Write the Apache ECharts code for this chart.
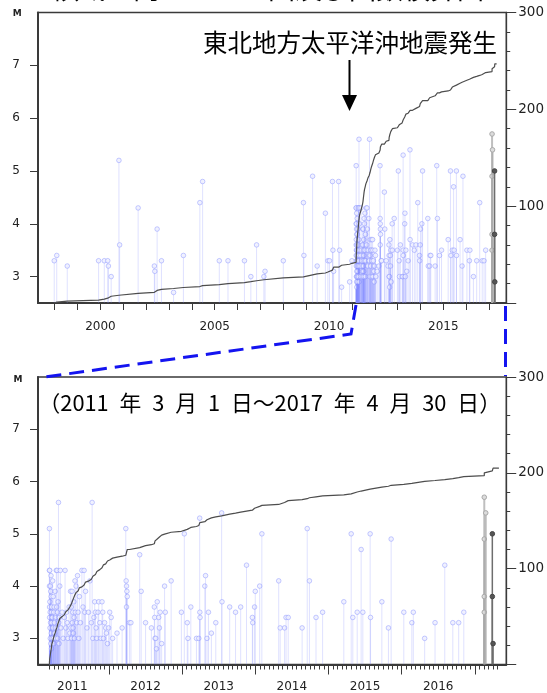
<!DOCTYPE html>
<html><head><meta charset="utf-8">
<script src="https://cdn.jsdelivr.net/npm/echarts@6/dist/echarts.min.js"></script>
<style>html,body{margin:0;padding:0;background:#fff}#c{width:547px;height:693px}</style>
</head><body><div id="c"></div>
<script>
// ---- data: [decimal year, magnitude] ----
const ev1998_2010 = [[1997.98,3.3],[1998.09,3.4],[1998.55,3.2],[1999.92,3.3],[2000.17,3.3],[2000.32,3.3],[2000.35,3.2],[2000.47,3.0],[2000.81,5.2],[2000.84,3.6],[2001.65,4.3],[2002.36,3.2],[2002.38,3.1],[2002.48,3.9],[2002.67,3.3],[2003.2,2.7],[2003.63,3.4],[2004.35,4.4],[2004.47,4.8],[2005.2,3.3],[2005.58,3.3],[2006.3,3.3],[2006.58,3.0],[2006.83,3.6],[2007.15,3.0],[2007.2,3.1],[2008.0,3.3],[2008.88,4.4],[2008.9,3.4],[2009.28,4.9],[2009.48,3.2],[2009.84,4.2],[2009.95,3.3],[2010.02,3.3],[2010.15,4.8],[2010.17,3.5],[2010.2,3.1],[2010.42,4.8],[2010.46,3.5],[2010.55,2.8],[2010.9,2.9],[2011.0,3.3]];
const ev2011 = [[2011.186,5.1],[2011.186,4.3],[2011.187,4.0],[2011.188,3.6],[2011.189,3.4],[2011.19,4.3],[2011.192,3.7],[2011.194,3.2],[2011.196,3.5],[2011.198,3.0],[2011.2,4.0],[2011.202,3.3],[2011.204,3.9],[2011.206,2.9],[2011.208,4.2],[2011.21,3.8],[2011.212,3.1],[2011.214,2.8],[2011.215,3.5],[2011.216,3.6],[2011.218,3.3],[2011.22,3.0],
[2011.225,3.4],[2011.23,4.1],[2011.235,3.2],[2011.238,3.8],[2011.24,3.0],[2011.245,3.5],[2011.248,2.9],[2011.25,3.6],[2011.255,3.3],[2011.26,3.1],[2011.265,3.9],[2011.268,3.2],
[2011.272,3.0],[2011.276,3.4],[2011.28,4.3],[2011.285,3.6],[2011.29,4.3],[2011.293,3.2],[2011.297,3.5],[2011.3,3.0],[2011.305,3.7],[2011.31,5.6],[2011.314,3.3],[2011.318,2.9],[2011.323,3.4],[2011.328,4.0],
[2011.335,4.3],[2011.345,3.2],[2011.36,3.5],[2011.375,3.0],[2011.39,3.4],
[2011.4,4.3],[2011.41,3.2],[2011.42,3.5],[2011.43,3.3],[2011.44,3.0],[2011.455,3.6],[2011.465,3.1],
[2011.475,3.9],[2011.48,3.2],[2011.485,3.6],[2011.49,3.0],[2011.495,3.9],[2011.5,3.3],[2011.505,3.5],[2011.51,3.2],[2011.515,3.1],[2011.52,3.7],[2011.525,3.4],[2011.53,3.0],[2011.535,4.1],[2011.54,3.5],
[2011.55,4.0],[2011.56,3.3],[2011.57,4.2],[2011.58,3.5],[2011.59,3.0],[2011.595,3.8],
[2011.61,3.3],[2011.63,4.3],[2011.645,3.6],[2011.66,4.3],[2011.67,3.5],
[2011.68,3.9],[2011.7,3.2],[2011.72,3.5],[2011.74,4.1],[2011.76,3.3],[2011.77,5.6],[2011.78,3.0],[2011.795,3.4],[2011.805,3.7],
[2011.815,3.5],[2011.825,3.2],[2011.835,3.0],[2011.85,3.5],[2011.86,3.7],[2011.875,3.3],[2011.89,3.0],
[2011.905,3.7],[2011.915,3.5],[2011.925,3.0],[2011.94,3.3],[2011.955,3.2],[2011.965,3.1],[2011.98,2.9],[2011.995,3.2]];
const ev2012 = [[2012.01,3.5],[2012.03,3.4],[2012.05,3.0],[2012.11,3.1],[2012.18,3.2],[2012.23,5.1],[2012.235,4.1],[2012.24,4.0],[2012.24,3.6],[2012.245,3.9],[2012.25,3.8],[2012.28,3.3],[2012.3,3.3],[2012.42,4.6],[2012.44,3.9],[2012.5,3.3],[2012.58,3.2],[2012.62,3.6],[2012.625,3.4],[2012.63,3.0],[2012.64,3.0],[2012.65,2.8],[2012.66,3.7],[2012.68,3.4],[2012.69,3.2],[2012.7,3.5],[2012.72,2.9],[2012.76,4.0],[2012.77,3.5],[2012.85,4.1],[2012.99,3.5]];
const ev2013 = [[2013.03,5.0],[2013.07,3.3],[2013.08,3.0],[2013.119,3.6],[2013.196,3.0],[2013.228,3.0],[2013.24,5.3],[2013.242,3.5],[2013.245,3.4],[2013.31,4.0],[2013.32,4.2],[2013.34,3.0],[2013.36,3.5],[2013.4,3.1],[2013.46,3.3],[2013.54,5.4],[2013.545,3.7],[2013.65,3.6],[2013.73,3.5],[2013.8,3.6],[2013.88,4.4],[2013.96,3.4],[2013.965,3.3],[2013.99,3.6]];
const ev2014 = [[2014.0,3.9],[2014.06,4.0],[2014.09,5.0],[2014.32,4.1],[2014.34,3.2],[2014.4,3.2],[2014.42,3.4],[2014.45,3.4],[2014.64,3.2],[2014.71,5.1],[2014.74,4.1],[2014.83,3.4],[2014.92,3.5]];
const ev2015 = [[2015.21,3.7],[2015.311,5.0],[2015.333,3.4],[2015.393,3.5],[2015.447,4.7],[2015.47,3.5],[2015.57,5.0],[2015.575,3.4],[2015.73,3.7],[2015.82,3.2],[2015.857,4.9]];
const ev2016 = [[2016.03,3.5],[2016.14,3.3],[2016.16,3.5],[2016.315,3.0],[2016.457,3.3],[2016.59,4.4],[2016.7,3.3],[2016.78,3.3],[2016.85,3.5]];
const ev2017prev = [[2017.13,5.7],[2017.13,4.9],[2017.13,3.8],[2017.13,3.5],[2017.15,5.4]];
const ev2017last = [[2017.24,5.0],[2017.24,3.8],[2017.25,2.9]];

const periodStart = 2011.17, periodEnd = 2017.33;
const topYearTicks = [1998,1999,2000,2001,2002,2003,2004,2005,2006,2007,2008,2009,2010,2011,2012,2013,2014,2015,2016,2017];
const topYearLabels = [2000,2005,2010,2015];
const bottomYearTicks = [2012,2013,2014,2015,2016,2017];
const bottomYearLabels = [2011,2012,2013,2014,2015,2016];
const magTicks = [3,4,5,6,7];
const magMin = 2.5, magMax = 8, countMax = 300;

// ---- derived ----
const blueEvents = [].concat(ev1998_2010, ev2011, ev2012, ev2013, ev2014, ev2015, ev2016);
const allEvents = blueEvents.concat(ev2017prev, ev2017last);
const after = arr => arr.filter(e => e[0] >= periodStart);
function cumulative(events, endT) {
  const t = events.map(e => e[0]).sort((a, b) => a - b);
  const pts = [[t[0], 0]];
  t.forEach((v, i) => pts.push([v, i + 1]));
  pts.push([endT, t.length]);
  return pts;
}
const bottomMinorTicks = [];
for (let y = 2011; y <= 2017; y++) for (let k = 1; k < 16; k++) {
  const v = y + k / 16; if (v >= 2011.18 && v <= 2017.32) bottomMinorTicks.push(v);
}

const FONT = 'DejaVu Sans';
const axisCol = '#3a3a3a';
const blueSt = {stem:'rgba(130,140,255,0.26)', lw:1, fill:'rgba(238,240,255,0.85)', ring:'rgba(140,150,255,0.5)', r:2.3};
const greySt = {stem:'rgba(170,170,170,0.75)', lw:2, fill:'#dcdcdc', ring:'#a8a8a8', r:2.3};
const darkSt = {stem:'#6e6e6e', lw:1.5, fill:'#555', ring:'#444', r:2.3};

function stemSeries(data, xi, yi, st) {
  return {
    type:'custom', xAxisIndex:xi, yAxisIndex:yi, data:data, z:2, clip:true,
    renderItem: function (params, api) {
      const x = api.value(0), m = api.value(1);
      const p0 = api.coord([x, magMin]), p1 = api.coord([x, m]);
      return {type:'group', children:[
        {type:'line', shape:{x1:p0[0], y1:p0[1], x2:p1[0], y2:p1[1]}, style:{stroke:st.stem, lineWidth:st.lw}},
        {type:'circle', shape:{cx:p1[0], cy:p1[1], r:st.r}, style:{fill:st.fill, stroke:st.ring, lineWidth:1}}
      ]};
    }
  };
}
function cumSeries(data, xi, yi) {
  return {type:'line', xAxisIndex:xi, yAxisIndex:yi, data:data, step:'end', symbol:'none', z:5,
    lineStyle:{color:'#4d4d4d', width:1.2}, silent:true};
}
const lbl = (extra) => Object.assign({fontFamily:FONT, fontSize:12, color:'#222'}, extra);
function magAxis(gi) {
  return {type:'value', gridIndex:gi, position:'left', min:magMin, max:magMax,
    axisLine:{show:true, lineStyle:{color:axisCol, width:2}},
    axisTick:{show:true, customValues:magTicks, length:8, lineStyle:{color:axisCol}},
    axisLabel:lbl({customValues:magTicks, margin:18}),
    splitLine:{show:false}};
}
function countAxis(gi) {
  return {type:'value', gridIndex:gi, position:'right', min:0, max:countMax, interval:100,
    axisLine:{show:true, lineStyle:{color:axisCol, width:1.3}},
    axisTick:{show:true, length:10, lineStyle:{color:axisCol}},
    minorTick:{show:true, splitNumber:5, length:4, lineStyle:{color:axisCol}},
    axisLabel:lbl({fontSize:13.5, margin:12, formatter: v => v === 0 ? '' : String(v)}),
    splitLine:{show:false}, minorSplitLine:{show:false}};
}

const option = {
  animation:false,
  grid:[
    {left:38, top:12.5, width:469, height:290.5, show:true, borderColor:axisCol, borderWidth:1.3},
    {left:38, top:377, width:469, height:287.5, show:true, borderColor:axisCol, borderWidth:1.3}
  ],
  xAxis:[
    {type:'value', gridIndex:0, min:1997.27, max:2017.75,
      axisLine:{show:true, lineStyle:{color:axisCol, width:2}},
      axisTick:{show:true, customValues:topYearTicks, length:7, lineStyle:{color:axisCol}},
      axisLabel:lbl({customValues:topYearLabels, margin:18, formatter: v => String(v)}),
      splitLine:{show:false}},
    {type:'value', gridIndex:1, min:2011.03, max:2017.43,
      axisLine:{show:true, lineStyle:{color:axisCol, width:2}},
      axisTick:{show:true, customValues:bottomYearTicks, length:10, lineStyle:{color:axisCol}},
      axisLabel:lbl({customValues:bottomYearLabels.map(y => y + 0.5), margin:16, formatter: v => String(Math.floor(v))}),
      splitLine:{show:false}},
    {type:'value', gridIndex:1, min:2011.03, max:2017.43, position:'bottom',
      axisLine:{show:false},
      axisTick:{show:true, customValues:bottomMinorTicks, length:5, lineStyle:{color:axisCol}},
      axisLabel:{show:false}, splitLine:{show:false}}
  ],
  yAxis:[magAxis(0), countAxis(0), magAxis(1), countAxis(1)],
  series:[
    stemSeries(blueEvents, 0, 0, blueSt),
    stemSeries(ev2017prev, 0, 0, greySt),
    stemSeries(ev2017last, 0, 0, darkSt),
    cumSeries(cumulative(allEvents, periodEnd), 0, 1),
    stemSeries(after(blueEvents), 1, 2, blueSt),
    stemSeries(ev2017prev, 1, 2, greySt),
    stemSeries(ev2017last, 1, 2, darkSt),
    cumSeries(cumulative(after(allEvents), periodEnd), 1, 3)
  ],
  graphic:[
    {type:'text', x:52, y:-11, style:{text:'領域ａ内のＭ－Ｔ図及び回数積算図', fontFamily:'Noto Sans CJK JP', fontSize:27, fill:'#000', align:'left', verticalAlign:'middle'}},
    {type:'text', x:12.7, y:13.5, style:{text:'M', fontFamily:FONT, fontWeight:'bold', fontSize:9, fill:'#222', align:'left', verticalAlign:'middle'}},
    {type:'text', x:13.5, y:380, style:{text:'M', fontFamily:FONT, fontWeight:'bold', fontSize:9, fill:'#222', align:'left', verticalAlign:'middle'}},
    {type:'text', x:203, y:42.5, style:{text:'東北地方太平洋沖地震発生', fontFamily:'Noto Sans CJK JP', fontSize:24.5, fill:'#000', align:'left', verticalAlign:'middle'}},
    {type:'line', shape:{x1:349.5, y1:60, x2:349.5, y2:98}, style:{stroke:'#000', lineWidth:2}},
    {type:'polygon', shape:{points:[[342,95],[357,95],[349.5,111]]}, style:{fill:'#000'}},
    {type:'text', x:38.5, y:403, style:{text:'（2011\u2002年\u20023\u2002月\u20021\u2002日～2017\u2002年\u20024\u2002月\u200230\u2002日）', fontFamily:'Noto Sans CJK JP', fontSize:21.8, fill:'#000', align:'left', verticalAlign:'middle'}},
    {type:'polyline', shape:{points:[[356,305],[351,334],[38,378]]}, style:{stroke:'#1414f0', lineWidth:3, lineDash:[15,8], fill:null}},
    {type:'line', shape:{x1:505.5, y1:306, x2:505.5, y2:376}, style:{stroke:'#1414f0', lineWidth:3, lineDash:[15,8]}}
  ]
};
const chart = echarts.init(document.getElementById('c'));
chart.setOption(option);
</script>
</body></html>
